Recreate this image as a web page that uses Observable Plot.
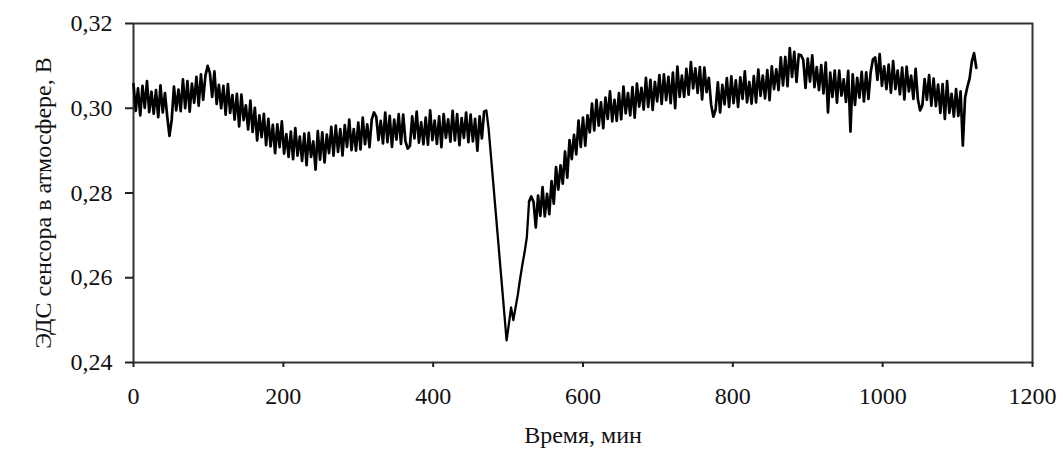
<!DOCTYPE html>
<html>
<head>
<meta charset="utf-8">
<script src="https://cdn.jsdelivr.net/npm/d3@7"></script>
<script src="https://cdn.jsdelivr.net/npm/@observablehq/plot@0.6"></script>
<style>
  html, body { margin: 0; padding: 0; background: #fff; }
  #chart { width: 1063px; height: 452px; }
</style>
</head>
<body>
<div id="chart"></div>
<script>
// Sampling step of the readings (minutes)
const STEP = 3;

// Segment 1: 0 … 468 min (ЭДС, В), one reading every 3 min
const emfA = [
  0.3057, 0.2994, 0.3047, 0.2983, 0.3053, 0.3001, 0.3064, 0.2991, 0.3039, 0.2987,
  0.3043, 0.2979, 0.3054, 0.2990, 0.3036, 0.2981, 0.2935, 0.2973, 0.3051, 0.2995,
  0.3044, 0.2993, 0.3068, 0.3000, 0.3064, 0.2992, 0.3058, 0.3013, 0.3074, 0.3006,
  0.3080, 0.3020, 0.3077, 0.3100, 0.3083, 0.3027, 0.3087, 0.3010, 0.3055, 0.3000,
  0.3053, 0.2985, 0.3057, 0.2989, 0.3031, 0.2973, 0.3034, 0.2957, 0.3032, 0.2972,
  0.3007, 0.2950, 0.3018, 0.2944, 0.3001, 0.2924, 0.2983, 0.2932, 0.2987, 0.2913,
  0.2975, 0.2910, 0.2961, 0.2894, 0.2962, 0.2908, 0.2969, 0.2893, 0.2939, 0.2885,
  0.2945, 0.2880, 0.2953, 0.2888, 0.2933, 0.2876, 0.2940, 0.2866, 0.2942, 0.2885,
  0.2922, 0.2855, 0.2946, 0.2879, 0.2943, 0.2872, 0.2938, 0.2894, 0.2956, 0.2888,
  0.2959, 0.2897, 0.2951, 0.2889, 0.2960, 0.2909, 0.2973, 0.2901, 0.2951, 0.2900,
  0.2966, 0.2903, 0.2978, 0.2915, 0.2962, 0.2908, 0.2973, 0.2990, 0.2980, 0.2925,
  0.2970, 0.2917, 0.2990, 0.2920, 0.2982, 0.2909, 0.2973, 0.2926, 0.2986, 0.2916,
  0.2985, 0.2922, 0.2905, 0.2911, 0.2981, 0.2929, 0.2992, 0.2919, 0.2967, 0.2915,
  0.2978, 0.2914, 0.2995, 0.2925, 0.2971, 0.2916, 0.2981, 0.2908, 0.2986, 0.2930,
  0.2974, 0.2921, 0.2994, 0.2924, 0.2986, 0.2913, 0.2977, 0.2930, 0.2990, 0.2920,
  0.2985, 0.2922, 0.2975, 0.2900, 0.2981, 0.2929, 0.2992
];
// Segment 2: 471 … 525 min (sharp drop, minimum and first recovery)
const emfB = [
  0.2995, 0.2952, 0.2890, 0.2828, 0.2765, 0.2703, 0.2640, 0.2578, 0.2515, 0.2452,
  0.2490, 0.2530, 0.2500, 0.2530, 0.2560, 0.2597, 0.2630, 0.2660, 0.2695
];
// Segment 3: 528 … 1125 min (recovery and drift)
const emfC = [
  0.2780, 0.2792, 0.2779, 0.2719, 0.2794, 0.2746, 0.2814, 0.2745, 0.2798, 0.2750,
  0.2828, 0.2775, 0.2861, 0.2808, 0.2865, 0.2822, 0.2898, 0.2836, 0.2925, 0.2880,
  0.2937, 0.2891, 0.2971, 0.2909, 0.2978, 0.2912, 0.2983, 0.2943, 0.3011, 0.2948,
  0.3020, 0.2959, 0.3014, 0.2953, 0.3025, 0.2975, 0.3040, 0.2969, 0.3020, 0.2970,
  0.3036, 0.2974, 0.3051, 0.2988, 0.3036, 0.2983, 0.3050, 0.2978, 0.3058, 0.3004,
  0.3048, 0.2997, 0.3072, 0.3003, 0.3067, 0.2996, 0.3062, 0.3016, 0.3078, 0.3010,
  0.3080, 0.3019, 0.3074, 0.3012, 0.3084, 0.3000, 0.3098, 0.3027, 0.3077, 0.3027,
  0.3093, 0.3032, 0.3109, 0.3047, 0.3094, 0.3036, 0.3097, 0.3021, 0.3096, 0.3038,
  0.3072, 0.3009, 0.2980, 0.2997, 0.3061, 0.2990, 0.3055, 0.3009, 0.3071, 0.3003,
  0.3075, 0.3012, 0.3066, 0.3003, 0.3073, 0.3022, 0.3087, 0.3014, 0.3062, 0.3011,
  0.3076, 0.3014, 0.3091, 0.3029, 0.3077, 0.3023, 0.3090, 0.3019, 0.3099, 0.3045,
  0.3092, 0.3043, 0.3120, 0.3054, 0.3121, 0.3052, 0.3142, 0.3074, 0.3133, 0.3062,
  0.3127, 0.3125, 0.3114, 0.3048, 0.3117, 0.3063, 0.3125, 0.3050, 0.3097, 0.3043,
  0.3102, 0.3035, 0.3108, 0.2990, 0.3084, 0.3027, 0.3089, 0.3013, 0.3089, 0.3030,
  0.3068, 0.3015, 0.3088, 0.2945, 0.3080, 0.3008, 0.3072, 0.3025, 0.3086, 0.3016,
  0.3085, 0.3022, 0.3085, 0.3115, 0.3120, 0.3067, 0.3128, 0.3053, 0.3099, 0.3045,
  0.3103, 0.3037, 0.3111, 0.3045, 0.3089, 0.3033, 0.3096, 0.3021, 0.3098, 0.3040,
  0.3077, 0.3022, 0.3093, 0.3021, 0.2995, 0.3007, 0.3069, 0.3020, 0.3078, 0.3006,
  0.3070, 0.3005, 0.3056, 0.2989, 0.3057, 0.2975, 0.3064, 0.2989, 0.3034, 0.2980,
  0.3045, 0.2982, 0.3040, 0.2912, 0.3025, 0.3050, 0.3070, 0.3110, 0.3130, 0.3095
];

const xTicks = [0, 200, 400, 600, 800, 1000, 1200];
const yTicks = [0.24, 0.26, 0.28, 0.30, 0.32];
const xTitle = "Время, мин";
const yTitle = "ЭДС сенсора в атмосфере, В";

// Build points; the drop segment is a clean line in the source, drawn on its own
const t0A = 0, t0B = emfA.length * STEP, t0C = (emfA.length + emfB.length) * STEP;
const noisyA = emfA.map((v, i) => ({t: t0A + i * STEP, v}));
const dropB = emfB.map((v, i) => ({t: t0B + i * STEP, v}));
const noisyC = emfC.map((v, i) => ({t: t0C + i * STEP, v}));
const dropJoined = [noisyA[noisyA.length - 1], ...dropB, noisyC[0]];

const fmtY = d => d.toFixed(2).replace(".", ",");
const fmtX = d => String(d);

const chart = Plot.plot({
  width: 1063,
  height: 452,
  marginLeft: 133,
  marginRight: 31,
  marginTop: 23,
  marginBottom: 90,
  style: {fontFamily: "'Liberation Serif', 'Times New Roman', serif", fontSize: "24px", color: "#111", background: "#fff"},
  x: {domain: [0, 1200]},
  y: {domain: [0.24, 0.32]},
  marks: [
    Plot.frame({stroke: "#333", strokeWidth: 2}),
    Plot.axisX({ticks: xTicks, tickFormat: fmtX, tickSize: 5, tickPadding: 19, label: null, stroke: "#222", strokeWidth: 2, fontSize: 24}),
    Plot.axisY({ticks: yTicks, tickFormat: fmtY, tickSize: 8, tickPadding: 13, label: null, stroke: "#222", strokeWidth: 2, fontSize: 24}),
    Plot.line(dropJoined, {x: "t", y: "v", stroke: "#000", strokeWidth: 2.3}),
    Plot.line(noisyA, {x: "t", y: "v", stroke: "#000", strokeWidth: 2.7}),
    Plot.line(noisyC, {x: "t", y: "v", stroke: "#000", strokeWidth: 2.7}),
    Plot.text([xTitle], {frameAnchor: "bottom", dy: 73, lineAnchor: "middle", fontSize: 24, fill: "#111"}),
    Plot.text([yTitle], {frameAnchor: "left", dx: -90, dy: 10, rotate: -90, textAnchor: "middle", lineAnchor: "middle", fontSize: 24, fill: "#111"})
  ]
});
document.getElementById("chart").appendChild(chart);
</script>
</body>
</html>
